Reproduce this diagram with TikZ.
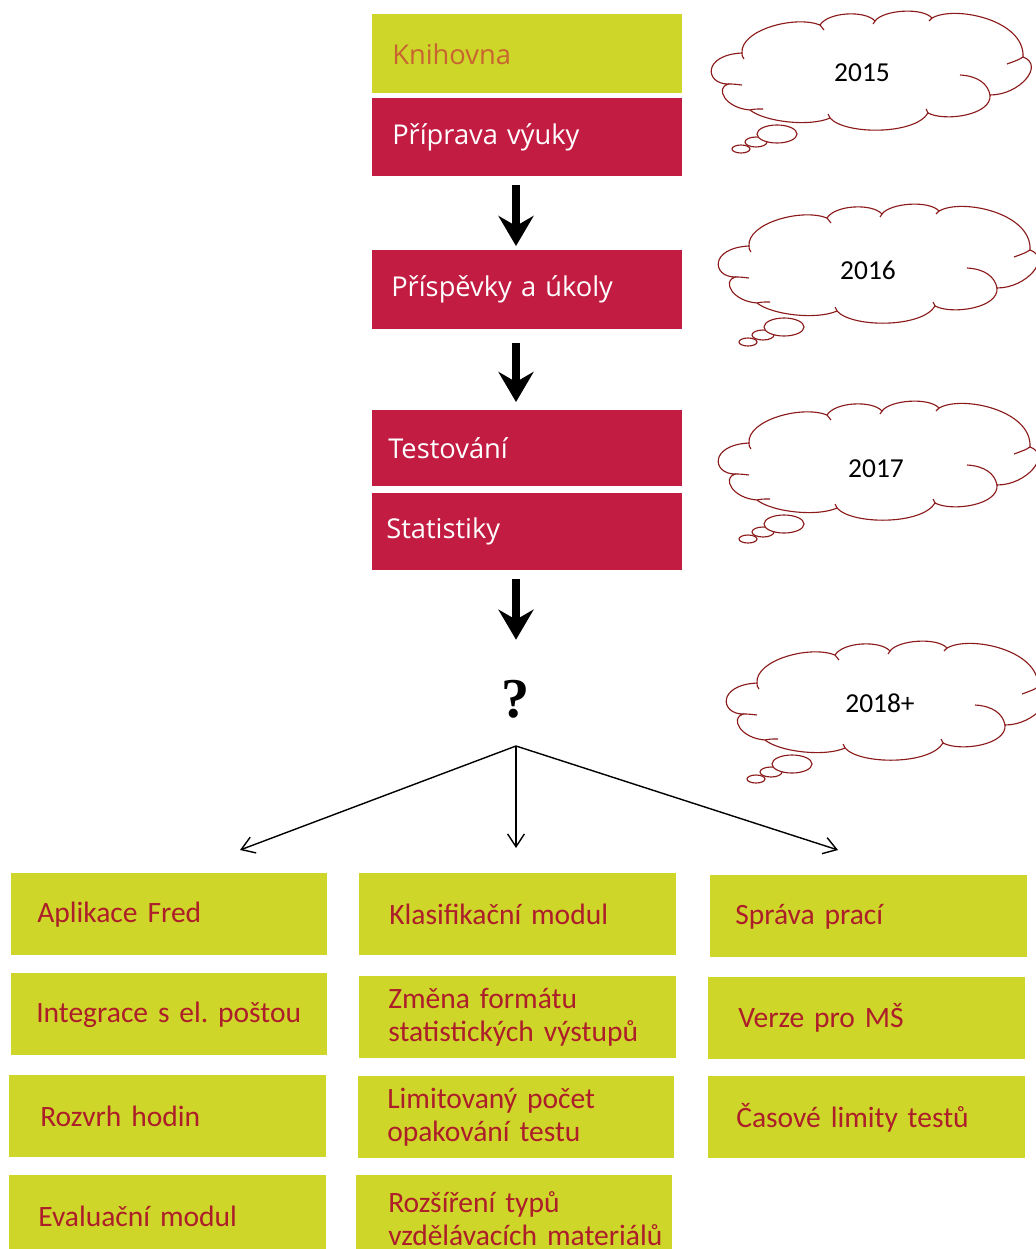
\documentclass[tikz,border=0pt]{standalone}
\usepackage{fontspec}
\setmainfont{Carlito}
\newfontfamily\boxfont{Open Sans}
\newfontfamily\markfont{Liberation Serif}
\usetikzlibrary{arrows.meta}

\definecolor{tilegreen}{RGB}{206,214,41}
\definecolor{tiletext}{RGB}{172,30,42}
\definecolor{crimson}{RGB}{194,28,66}
\definecolor{libtext}{RGB}{200,100,48}
\definecolor{cloudred}{RGB}{139,26,26}

% box with its top-left corner at (x0,y0), bottom-right at (x1,y1), text starting at tx
\newcommand\plantile[8]{%
  \node[#2, anchor=north west, inner ysep=0pt,
        minimum width={(#5-#3)*0.025cm}, minimum height={(#6-#4)*0.025cm},
        inner xsep={(#7-#3)*0.025cm}, text width={(#5-#3-2*(#7-#3))*0.025cm}]
        (#1) at (#3,-#4) {#8};}

% thought cloud outline, drawn in local pixel coordinates
\newcommand\thoughtcloud{%
  \draw[cloudline, fill=white] (28,-74)
    .. controls (5,-74) and (2,-45) .. (42,-43)
    .. controls (40,-20) and (95,-5) .. (120,-15)
    .. controls (128,-2) and (165,0) .. (175,-11)
    .. controls (183,0) and (222,3) .. (232,-8)
    .. controls (255,5) and (325,-10) .. (323,-47)
    .. controls (345,-55) and (320,-85) .. (290,-85)
    .. controls (292,-105) and (245,-112) .. (228,-103)
    .. controls (215,-125) and (145,-125) .. (130,-108)
    .. controls (110,-117) and (65,-112) .. (50,-100)
    .. controls (25,-98) and (15,-78) .. (28,-74) -- cycle;
  \draw[cloudline] (42,-43) .. controls (42,-46) .. (44,-49);
  \draw[cloudline] (120,-15) -- (124,-20);
  \draw[cloudline] (175,-11) -- (173,-14);
  \draw[cloudline] (232,-8) -- (229,-11);
  \draw[cloudline] (323,-47) .. controls (318,-50) .. (307,-54);
  \draw[cloudline] (260,-65) .. controls (278,-66) and (288,-74) .. (290,-85);
  \draw[cloudline] (228,-103) -- (226,-99);
  \draw[cloudline] (130,-108) -- (128,-104);
  \draw[cloudline] (50,-100) .. controls (55,-99) .. (63,-99);
  \draw[cloudline] (28,-74) .. controls (33,-74) .. (42,-75);
  \draw[cloudline, fill=white] (41,-139) ellipse [x radius=9, y radius=4];
  \draw[cloudline, fill=white] (56,-132) ellipse [x radius=11, y radius=5];
  \draw[cloudline, fill=white] (77,-124) ellipse [x radius=20, y radius=9];
}

\begin{document}
\begin{tikzpicture}[x=0.025cm, y=0.025cm,
  topgreen/.style={rectangle, fill=tilegreen, text=libtext,
    font=\boxfont\fontsize{19.4}{22}\selectfont},
  topred/.style={rectangle, fill=crimson, text=white,
    font=\boxfont\fontsize{19.4}{22}\selectfont},
  tile/.style={rectangle, fill=tilegreen, text=tiletext,
    font=\fontsize{21}{23.5}\selectfont},
  bigarrow/.style={line width=0.2cm,
    -{Stealth[length=0.75cm, width=0.875cm, inset=0.25cm]}},
  fine/.style={line width=1pt, -{Straight Barb[length=0.32cm, width=0.42cm]}},
  cloudline/.style={draw=cloudred, line width=0.8pt},
  year/.style={font=\fontsize{19.5}{22}\selectfont, text=black}]

\useasboundingbox (0,0) rectangle (1036,-1249);
\clip (0,0) rectangle (1036,-1249);
\fill[white] (0,0) rectangle (1036,-1249);

% timeline column
\plantile{lib}{topgreen}{372}{14}{682}{93}{392}{Knihovna}
\plantile{prep}{topred}{372}{98}{682}{176}{392}{Příprava výuky}
\plantile{posts}{topred}{372}{250}{682}{329}{391}{Příspěvky a úkoly}
\plantile{tests}{topred}{372}{410}{682}{486}{388}{Testování}
\plantile{stats}{topred}{372}{493}{682}{570}{386}{Statistiky}

\node[font=\markfont\bfseries\fontsize{40}{40}\selectfont, inner sep=0pt] (q) at (516,-699) {?};

\draw[bigarrow, shorten <=0.2cm, shorten >=0.1cm] (prep.south -| q) -- (posts.north -| q);
\draw[bigarrow, shorten <=0.325cm, shorten >=0.2cm] (posts.south -| q) -- (tests.north -| q);
\draw[bigarrow, shorten <=0.2cm, shorten >=1cm] (stats.south -| q) -- (q.north);

% branching to the planned features
\coordinate (fork) at (516,-746);
\coordinate (tL) at (240,-850);
\coordinate (tM) at (516,-848);
\coordinate (tR) at (838,-850);
\draw[fine] (fork) -- (tL);
\draw[fine] (fork) -- (tM);
\draw[fine] (fork) -- (tR);

% planned features
\plantile{fred}{tile}{11}{873}{327}{955}{37}{\mbox{Aplikace Fred}}
\plantile{mail}{tile}{11}{973}{327}{1055}{36}{\mbox{Integrace s el.\ poštou}}
\plantile{timetable}{tile}{9}{1075}{326}{1157}{40}{\mbox{Rozvrh hodin}}
\plantile{evaluation}{tile}{9}{1175}{326}{1257}{38}{\mbox{Evaluační modul}}
\plantile{classif}{tile}{359}{873}{676}{955}{389}{\mbox{Klasifikační modul}}
\plantile{statfmt}{tile}{359}{976}{676}{1058}{388}{\mbox{Změna formátu}\\\mbox{statistických výstupů}}
\plantile{attempts}{tile}{358}{1076}{674}{1158}{387}{\mbox{Limitovaný počet}\\\mbox{opakování testu}}
\plantile{materials}{tile}{356}{1175}{672}{1262}{388}{\mbox{Rozšíření typů}\\\mbox{vzdělávacích materiálů}}
\plantile{theses}{tile}{710}{875}{1027}{957}{735}{\mbox{Správa prací}}
\plantile{kinder}{tile}{708}{977}{1025}{1059}{738}{\mbox{Verze pro MŠ}}
\plantile{timelimits}{tile}{708}{1076}{1025}{1158}{736}{\mbox{Časové limity testů}}

% year clouds
\begin{scope}[shift={(700,-10)}]\thoughtcloud\end{scope}
\begin{scope}[shift={(707,-203)}]\thoughtcloud\end{scope}
\begin{scope}[shift={(707,-400)}]\thoughtcloud\end{scope}
\begin{scope}[shift={(715,-640)}]\thoughtcloud\end{scope}
\node[year] (y15) at (862,-73) {2015};
\node[year] (y16) at (868,-270) {2016};
\node[year] (y17) at (876,-469) {2017};
\node[year] (y18) at (880,-703) {2018+};
\end{tikzpicture}
\end{document}
